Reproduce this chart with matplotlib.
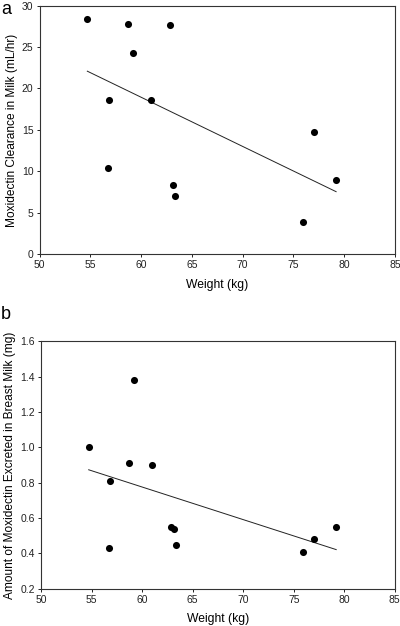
import numpy as np
import matplotlib
matplotlib.use("Agg")
import matplotlib.pyplot as plt

plt.rcParams['font.family'] = ['Liberation Sans', 'DejaVu Sans']

# weights shared by both panels (kg)
weight = [54.7, 58.7, 62.8, 59.2, 56.8, 61.0, 56.7, 63.1, 63.3, 77.0, 79.2, 75.9]
# panel a: clearance in milk (mL/hr)
clearance = [28.4, 27.75, 27.7, 24.3, 18.6, 18.55, 10.4, 8.35, 7.0, 14.7, 8.95, 3.85]
# panel b: amount excreted in breast milk (mg)
amount = [1.00, 0.91, 0.55, 1.38, 0.81, 0.90, 0.43, 0.54, 0.45, 0.48, 0.55, 0.41]

xticks = [50, 55, 60, 65, 70, 75, 80, 85]
yticks_a = [0, 5, 10, 15, 20, 25, 30]
yticks_b = [0.2, 0.4, 0.6, 0.8, 1.0, 1.2, 1.4, 1.6]

fig = plt.figure(figsize=(4.0, 6.26), dpi=100)
ax1 = fig.add_axes([0.099, 0.594, 0.8885, 0.397])
ax2 = fig.add_axes([0.103, 0.0596, 0.884, 0.3952])


def draw(ax, x, y, yticks, ylabel, fmt):
    x = np.array(x)
    y = np.array(y)
    ax.scatter(x, y, s=26, color='black', zorder=3, linewidths=0)
    # least-squares regression line over the data range
    k, b = np.polyfit(x, y, 1)
    xs = np.array([x.min(), x.max()])
    ax.plot(xs, k * xs + b, color='#222222', lw=0.7)
    ax.set_xlim(50, 85)
    ax.set_ylim(yticks[0], yticks[-1])
    ax.set_xticks(xticks)
    ax.set_yticks(yticks)
    ax.set_yticklabels([fmt.format(v) for v in yticks])
    ax.tick_params(direction='out', length=2.5, width=0.7, labelsize=7.5,
                   pad=2, colors='#222222')
    for s in ax.spines.values():
        s.set_linewidth(0.8)
        s.set_color('#333333')
    ax.set_xlabel('Weight (kg)', fontsize=8.7, labelpad=6)
    ax.set_ylabel(ylabel, fontsize=8.6, labelpad=3)


draw(ax1, weight, clearance, yticks_a, 'Moxidectin Clearance in Milk (mL/hr)', '{:g}')
draw(ax2, weight, amount, yticks_b,
     'Amount of Moxidectin Excreted in Breast Milk (mg)', '{:.1f}')

fig.text(0.003, 0.998, 'a', fontsize=13, va='top', ha='left')
fig.text(0.003, 0.511, 'b', fontsize=13, va='top', ha='left')

fig.savefig('out.png', dpi=100)
